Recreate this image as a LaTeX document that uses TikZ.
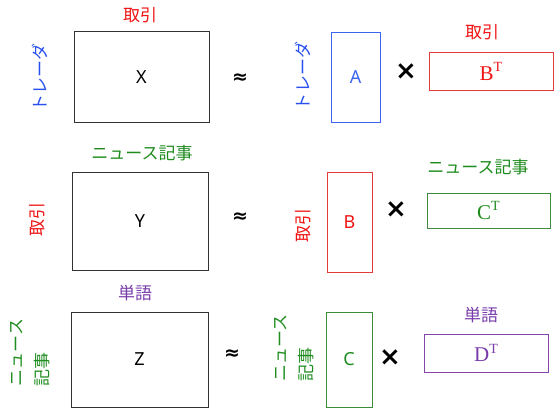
\documentclass[tikz,border=0pt]{standalone}
\usepackage{fontspec}
\setmainfont{Noto Sans}
\newfontfamily\jp{Noto Sans CJK JP}
\newfontfamily\serx{Liberation Serif}
\newfontfamily\dv{DejaVu Sans}
\definecolor{jred}{RGB}{240,20,20}
\definecolor{jblue}{RGB}{40,80,240}
\definecolor{jgreen}{RGB}{30,140,30}
\definecolor{jpurple}{RGB}{120,60,170}
\definecolor{bred}{RGB}{225,60,60}
\definecolor{bblue}{RGB}{60,100,240}
\definecolor{bgreen}{RGB}{60,140,60}
\definecolor{bpurple}{RGB}{130,70,170}
\definecolor{bgray}{RGB}{50,50,50}
\newcommand{\supT}{\raisebox{0.42em}{\fontsize{14}{14}\selectfont T}}
\tikzset{
  mat/.style={draw=bgray, line width=1pt, inner sep=0pt, font=\fontsize{18}{20}\selectfont},
  jlab/.style={inner sep=0pt, font=\jp\fontsize{17}{26}\selectfont},
  vlab/.style={jlab, rotate=90, align=left},
  sym/.style={inner sep=0pt, font=\dv\bfseries\fontsize{19}{20}\selectfont},
  cross/.style={inner sep=0pt, font=\dv\bfseries\fontsize{26}{28}\selectfont},
  tmat/.style={inner sep=0pt, line width=1pt, font=\serx\fontsize{21}{22}\selectfont}
}
\begin{document}
\begin{tikzpicture}[x=1pt,y=-1pt]
\useasboundingbox (0,0) rectangle (554,412);
% row 1
\node[mat, minimum width=135pt, minimum height=90pt] (X) at (141.5,77) {X};
\node[jlab, text=jred] (x1) at (140,15) {取引};
\node[vlab, text=jblue] (x2) at (40,77) {トレーダ};
\node[sym] (ap1) at (240,79) {≈};
\node[vlab, text=jblue] (a1) at (303,76) {トレーダ};
\node[mat, draw=bblue, text=bblue, minimum width=49pt, minimum height=89pt] (A) at (355.5,77.5) {A};
\node[cross] (t1) at (406,72) {×};
\node[jlab, text=jred] (b1) at (482,32) {取引};
\node[tmat, draw=bred, text=jred, minimum width=124pt, minimum height=37pt] (BT) at (491,71.5) {B\supT};
% row 2
\node[mat, minimum width=136pt, minimum height=98pt] (Y) at (140,221) {Y};
\node[jlab, text=jgreen] (y1) at (142,153) {ニュース記事};
\node[vlab, text=jred] (y2) at (37,219) {取引};
\node[sym] (ap2) at (240,218) {≈};
\node[vlab, text=jred] (b2) at (303,225) {取引};
\node[mat, draw=bred, text=jred, minimum width=45pt, minimum height=100pt] (B) at (349.5,222) {B};
\node[cross] (t2) at (396,210) {×};
\node[jlab, text=jgreen] (c1) at (478,167) {ニュース記事};
\node[tmat, draw=bgreen, text=jgreen, minimum width=123pt, minimum height=35pt] (CT) at (488.5,210.5) {C\supT};
% row 3
\node[mat, minimum width=137pt, minimum height=95pt] (Z) at (139.5,359.5) {Z};
\node[jlab, text=jpurple] (z1) at (135,293) {単語};
\node[vlab, text=jgreen] (z2) at (30,352.5) {ニュース\\記事};
\node[sym] (ap3) at (232,355) {≈};
\node[vlab, text=jgreen] (c2) at (294,348) {ニュース\\記事};
\node[mat, draw=bgreen, text=jgreen, minimum width=46pt, minimum height=95pt] (C) at (349,359.5) {C};
\node[cross] (t3) at (390,358) {×};
\node[jlab, text=jpurple] (d1) at (481,315) {単語};
\node[tmat, draw=bpurple, text=jpurple, minimum width=124pt, minimum height=38pt] (DT) at (486,353) {D\supT};
\end{tikzpicture}
\end{document}
